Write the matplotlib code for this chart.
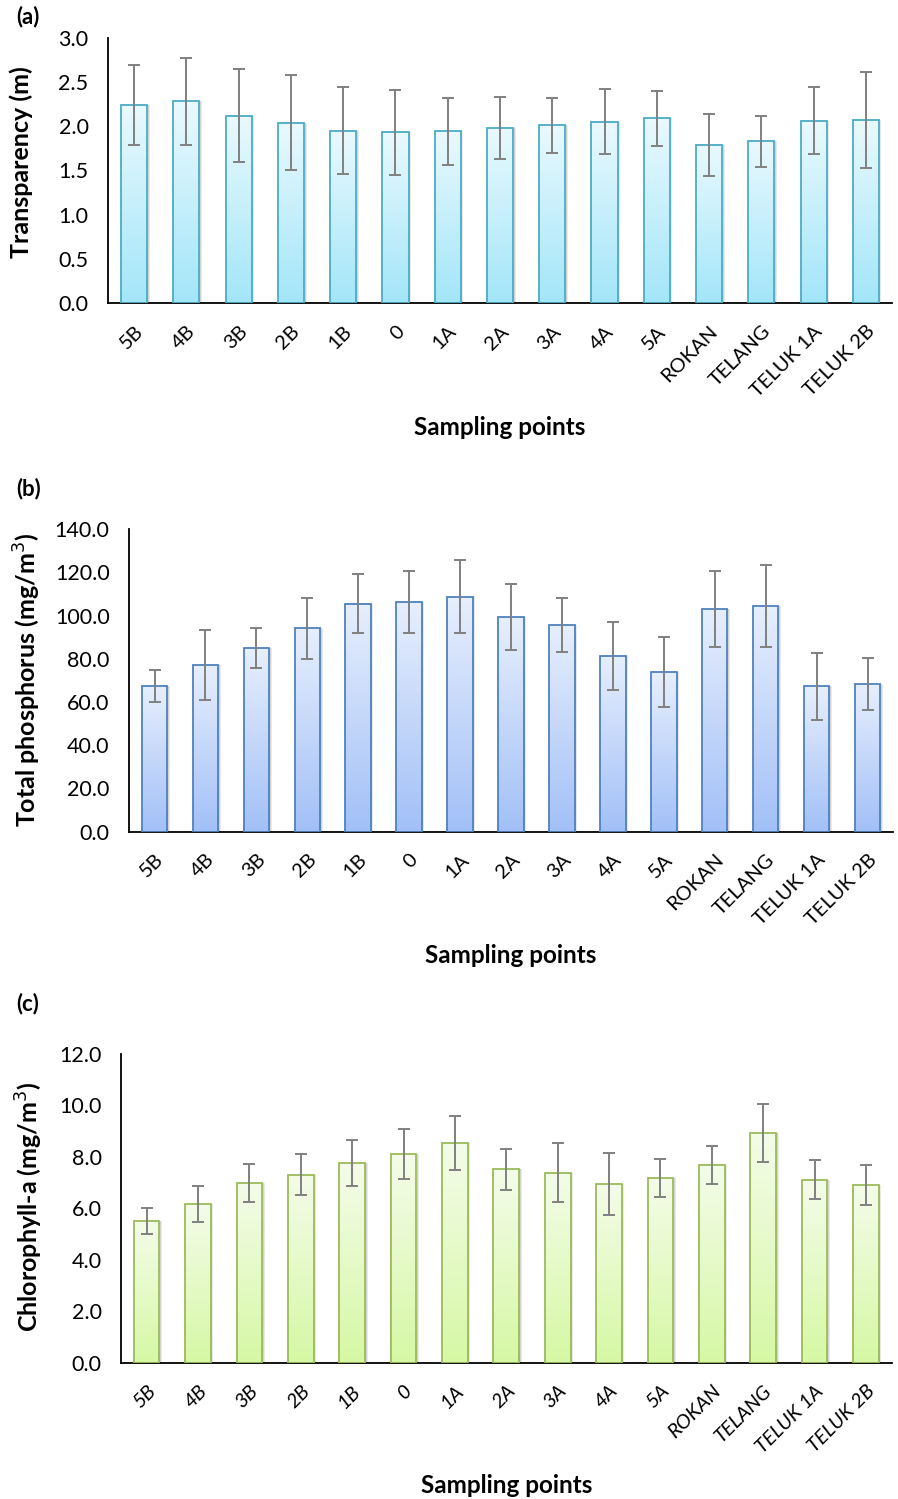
import matplotlib
matplotlib.use("Agg")
import matplotlib.pyplot as plt
import numpy as np
from matplotlib.colors import LinearSegmentedColormap
import matplotlib.transforms as mtransforms

plt.rcParams["font.family"] = ["Lato", "DejaVu Sans"]

sites = ["5B", "4B", "3B", "2B", "1B", "0", "1A", "2A", "3A", "4A", "5A",
         "ROKAN", "TELANG", "TELUK 1A", "TELUK 2B"]

transparency = [2.24, 2.28, 2.12, 2.04, 1.95, 1.93, 1.94, 1.98, 2.01, 2.05, 2.09,
                1.79, 1.83, 2.06, 2.07]
transparency_sd = [0.45, 0.49, 0.53, 0.54, 0.49, 0.48, 0.38, 0.35, 0.31, 0.37, 0.31,
                   0.35, 0.29, 0.38, 0.54]

phosphorus = [67.4, 77.2, 85.0, 94.1, 105.6, 106.3, 108.8, 99.4, 95.7, 81.5, 73.9,
              103.1, 104.5, 67.4, 68.4]
phosphorus_sd = [7.5, 16.3, 9.4, 14.1, 13.7, 14.4, 17.0, 15.5, 12.6, 15.7, 16.0,
                 17.4, 19.0, 15.5, 12.1]

chlorophyll = [5.51, 6.18, 6.98, 7.31, 7.75, 8.11, 8.54, 7.52, 7.39, 6.95, 7.18,
               7.68, 8.94, 7.11, 6.91]
chlorophyll_sd = [0.52, 0.70, 0.73, 0.79, 0.90, 0.96, 1.05, 0.80, 1.13, 1.19, 0.73,
                  0.75, 1.12, 0.75, 0.78]

panels = [
    # letter, values, sd, ylabel, ymax, step, edge, top col, bottom col, rect,
    # ylabel coords, letter y, xlabel y, italic ticks
    ("(a)", transparency, transparency_sd, "Transparency (m)", 3.0, 0.5,
     "#4BACC6", "#EAF9FE", "#A3E6F9", [0.1203, 0.7977, 0.8730, 0.1772],
     (-0.096, 0.532), 0.9887, 0.7145, False),
    ("(b)", phosphorus, phosphorus_sd, "Total phosphorus (mg/m$^3$)", 140.0, 20.0,
     "#4F81BD", "#E7EFFD", "#A2C0F7", [0.1437, 0.4452, 0.8507, 0.2017],
     (-0.113, 0.5), 0.6744, 0.3629, False),
    ("(c)", chlorophyll, chlorophyll_sd, "Chlorophyll-a (mg/m$^3$)", 12.0, 2.0,
     "#9BBB59", "#F4FCEA", "#D6F8A4", [0.1347, 0.0909, 0.8583, 0.2060],
     (-0.099, 0.505), 0.3303, 0.0087, True),
]

fig = plt.figure(figsize=(8.98, 14.99), dpi=100)
x = np.arange(len(sites))
width = 0.5
grad = np.linspace(0, 1, 256).reshape(-1, 1)

for (letter, vals, sd, ylab, ymax, step, edge, ctop, cbot, rect,
     ylc, lety, xly, italic) in panels:
    ax = fig.add_axes(rect)
    cmap = LinearSegmentedColormap.from_list("g", [cbot, ctop])

    # soft shadow to the right of each bar
    for dx, a in [(2.5, 0.18), (1.5, 0.25)]:
        off = mtransforms.offset_copy(ax.transData, fig=fig, x=dx, y=0, units="dots")
        ax.bar(x, vals, width, color="#8c8c8c", alpha=a, linewidth=0,
               transform=off, zorder=1)

    for xi, v in zip(x, vals):
        ax.imshow(grad, extent=[xi - width / 2, xi + width / 2, 0, v], origin="lower",
                  aspect="auto", cmap=cmap, zorder=2, interpolation="bilinear")
    ax.bar(x, vals, width, facecolor="none", edgecolor=edge, linewidth=1.3, zorder=3)
    ax.errorbar(x, vals, yerr=sd, fmt="none", ecolor="#808080", elinewidth=1.4,
                capsize=4, capthick=1.4, zorder=4)

    ax.set_xlim(-0.5, len(sites) - 0.5)
    ax.set_ylim(0, ymax)
    ticks = np.arange(0, ymax + step / 2, step)
    ax.set_yticks(ticks)
    ax.set_yticklabels([f"{t:.1f}" for t in ticks], fontsize=15.5)
    ax.set_xticks(x)
    ax.set_xticklabels(sites, rotation=45, ha="right", rotation_mode="anchor",
                       fontsize=14.5, style="italic" if italic else "normal")
    ax.tick_params(axis="both", length=0)
    ax.tick_params(axis="x", pad=14)
    ax.tick_params(axis="y", pad=14)
    for s in ["top", "right"]:
        ax.spines[s].set_visible(False)
    for s in ["left", "bottom"]:
        ax.spines[s].set_linewidth(1.3)
        ax.spines[s].set_color("black")

    ax.set_ylabel(ylab, fontsize=18, fontweight="bold")
    ax.yaxis.set_label_coords(*ylc)

    fig.text(0.5 * (rect[0] * 2 + rect[2]), xly, "Sampling points", fontsize=17.5,
             fontweight="bold", ha="center", va="center")
    fig.text(0.018, lety, letter, fontsize=16, fontweight="bold", ha="left", va="center")

fig.savefig("out.png", dpi=100)
